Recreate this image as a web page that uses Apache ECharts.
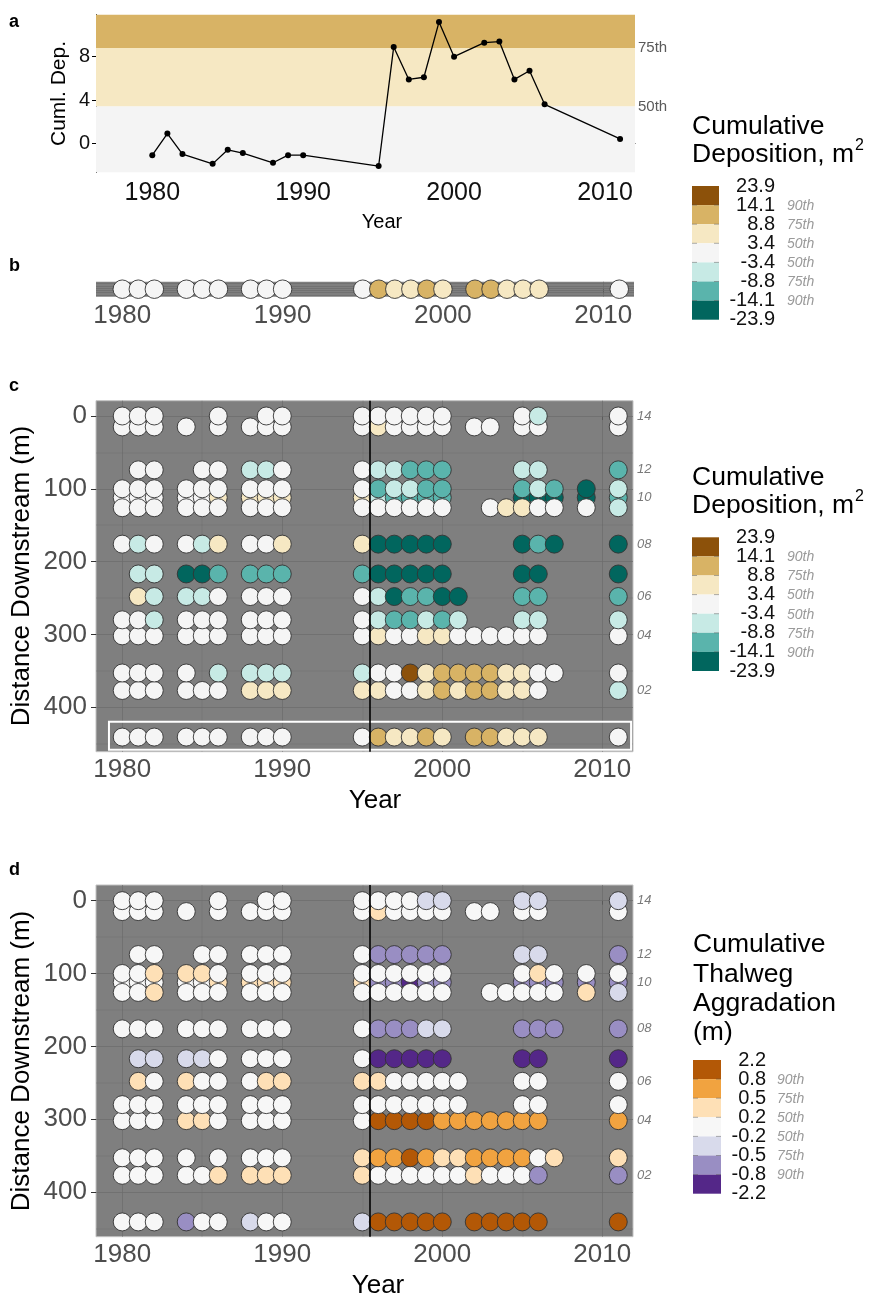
<!DOCTYPE html>
<html>
<head>
<meta charset="utf-8">
<script src="https://cdn.jsdelivr.net/npm/echarts@6.0.0/dist/echarts.min.js"></script>
<style>
  html, body { margin: 0; padding: 0; background: #ffffff; }
  #chart { width: 877px; height: 1299px; }
</style>
</head>
<body>
<div id="chart"></div>
<script>
// ---------------- data ----------------
const yearTicks = [1980, 1990, 2000, 2010];
const yearMinorTicks = [1985, 1995, 2005];
const distanceTicks = [0, 100, 200, 300, 400];
const distanceMinorTicks = [50, 150, 250, 350, 450];
const cumDepTicks = [0, 4, 8];

// transect 01: cumulative deposition (m2) per survey year
const cumDepYears = [1980, 1981, 1982, 1984, 1985, 1986, 1988, 1989, 1990, 1995, 1996, 1997, 1998, 1999, 2000, 2002, 2003, 2004, 2005, 2006, 2011];
const cumDep = [-1.1, 0.9, -1.0, -1.9, -0.6, -0.9, -1.8, -1.1, -1.1, -2.1, 8.9, 5.9, 6.1, 11.2, 8.0, 9.3, 9.4, 5.9, 6.7, 3.6, 0.4];

// class breaks, percentile names and palettes
const depBreaks = [23.9, 14.1, 8.8, 3.4, -3.4, -8.8, -14.1, -23.9];
const aggBreaks = [2.2, 0.8, 0.5, 0.2, -0.2, -0.5, -0.8, -2.2];
const breakPercentiles = ['', '90th', '75th', '50th', '50th', '75th', '90th', ''];
const depColors = ['#8c510a', '#d8b365', '#f6e8c3', '#f5f5f5', '#c7eae5', '#5ab4ac', '#01665e'];
const aggColors = ['#b35806', '#f1a340', '#fee0b6', '#f7f7f7', '#d8daeb', '#998ec3', '#542788'];

// transects, upstream to downstream
const transectIds = ['14', '13', '12', '11', '10', '09', '08', '07', '06', '05', '04', '03', '02', '01'];
const transectDist = [0, 15, 74, 100, 112, 126, 176, 217, 248, 280, 302, 353, 377, 441];
const labelledTransects = ['14', '12', '10', '08', '06', '04', '02'];
const highlightedTransect = '01';
const eventYear = 1995.45;

// cumulative deposition (m2), [year, value] per transect
const dep14 = [[1980,0.6],[1981,-0.4],[1982,1.2],[1986,-1.1],[1989,0.3],[1990,-0.7],[1995,1.5],[1996,2.1],[1997,0.9],[1998,-0.5],[1999,1.8],[2000,-1.6],[2005,0.2],[2006,-4.4],[2011,-0.9]];
const dep13 = [[1980,-0.3],[1981,0.8],[1982,-1.4],[1984,0.5],[1986,1.0],[1988,-0.6],[1989,0.7],[1990,-1.9],[1995,2.4],[1996,4.3],[1997,1.3],[1998,-0.2],[1999,0.6],[2000,1.7],[2002,-1.0],[2003,-0.4],[2005,0.9],[2006,-1.3],[2011,0.1]];
const dep12 = [[1981,-1.8],[1982,0.4],[1985,-0.9],[1986,1.1],[1988,-4.9],[1989,-5.6],[1990,-2.3],[1995,-1.2],[1996,-6.2],[1997,-7.4],[1998,-10.3],[1999,-11.5],[2000,-12.6],[2005,-5.1],[2006,-6.8],[2011,-9.9]];
const dep11 = [[1980,0.2],[1981,-0.6],[1982,1.4],[1984,-1.0],[1985,0.7],[1986,-0.3],[1988,1.9],[1989,-1.5],[1990,0.5],[1995,-2.6],[1996,-9.8],[1997,-6.9],[1998,-7.7],[1999,-11.2],[2000,-12.4],[2005,-10.6],[2006,-5.8],[2007,-9.4],[2009,-17.2],[2011,-6.3]];
const dep10 = [[1980,1.1],[1981,0.3],[1982,-0.8],[1984,0.9],[1985,-1.7],[1986,4.2],[1988,4.8],[1989,5.3],[1990,4.6],[1995,3.9],[1996,-5.2],[1997,-9.3],[1998,-10.1],[1999,-12.8],[2000,-13.5],[2005,-16.4],[2006,-18.1],[2007,-15.7],[2009,-20.6],[2011,-11.0]];
const dep09 = [[1980,-0.5],[1981,1.6],[1982,0.1],[1984,-1.2],[1985,0.6],[1986,2.0],[1988,-0.4],[1989,1.3],[1990,-2.1],[1995,0.8],[1996,2.7],[1997,-1.1],[1998,0.4],[1999,-0.7],[2000,1.9],[2003,-2.4],[2004,5.1],[2005,4.4],[2006,1.2],[2007,-0.3],[2009,0.9],[2011,-4.6]];
const dep08 = [[1980,0.9],[1981,-4.1],[1982,-1.3],[1984,0.5],[1985,-5.3],[1986,4.7],[1988,-0.2],[1989,2.2],[1990,6.1],[1995,5.4],[1996,-16.2],[1997,-18.7],[1998,-19.9],[1999,-17.3],[2000,-21.4],[2005,-15.5],[2006,-12.2],[2007,-16.8],[2011,-18.4]];
const dep07 = [[1981,-4.7],[1982,-6.0],[1984,-15.1],[1985,-16.9],[1986,-10.4],[1988,-11.7],[1989,-9.2],[1990,-12.9],[1995,-13.6],[1996,-19.0],[1997,-21.2],[1998,-22.6],[1999,-18.3],[2000,-20.5],[2005,-17.6],[2006,-19.8],[2011,-16.1]];
const dep06 = [[1981,5.0],[1982,-3.9],[1984,-6.4],[1985,-5.7],[1986,-1.6],[1988,0.7],[1989,-0.9],[1990,1.4],[1995,-2.8],[1996,-7.1],[1997,-15.9],[1998,-11.9],[1999,-13.1],[2000,-17.0],[2001,-14.8],[2005,-10.7],[2006,-9.5],[2011,-12.3]];
const dep05 = [[1980,-1.4],[1981,0.6],[1982,-4.3],[1984,1.8],[1985,-0.1],[1986,-2.5],[1988,0.8],[1989,-1.7],[1990,0.2],[1995,-2.0],[1996,-6.6],[1997,-9.0],[1998,-10.5],[1999,-7.9],[2000,-11.4],[2001,-5.5],[2005,-4.8],[2006,-6.1],[2011,-5.0]];
const dep04 = [[1980,0.5],[1981,-0.9],[1982,1.7],[1984,-1.3],[1985,0.4],[1986,2.3],[1988,-0.6],[1989,1.0],[1990,-1.8],[1995,0.3],[1996,4.9],[1997,1.5],[1998,-0.8],[1999,5.7],[2000,6.4],[2001,2.6],[2002,-1.4],[2003,0.7],[2004,1.9],[2005,-0.5],[2006,2.8],[2011,1.1]];
const dep03 = [[1980,-0.7],[1981,1.2],[1982,0.3],[1984,-2.2],[1986,-4.6],[1988,-5.9],[1989,-6.5],[1990,-4.2],[1995,-5.3],[1996,2.5],[1997,3.1],[1998,16.6],[1999,7.8],[2000,10.9],[2001,12.3],[2002,13.0],[2003,11.7],[2004,8.1],[2005,7.0],[2006,2.9],[2007,1.6],[2011,-0.4]];
const dep02 = [[1980,0.1],[1981,-1.0],[1982,1.5],[1984,-0.6],[1985,2.0],[1986,0.9],[1988,4.5],[1989,5.9],[1990,6.6],[1995,7.2],[1996,5.6],[1997,2.4],[1998,3.0],[1999,8.3],[2000,12.0],[2001,7.5],[2002,13.4],[2003,12.7],[2004,6.8],[2005,5.2],[2006,1.8],[2011,-4.9]];

// cumulative thalweg aggradation (m), [year, value] per transect
const agg14 = [[1980,0.04],[1981,-0.07],[1982,0.12],[1986,-0.03],[1989,0.09],[1990,-0.11],[1995,0.06],[1996,0.14],[1997,-0.05],[1998,0.02],[1999,-0.31],[2000,-0.38],[2005,-0.27],[2006,-0.35],[2011,-0.29]];
const agg13 = [[1980,-0.02],[1981,0.08],[1982,-0.13],[1984,0.05],[1986,0.11],[1988,-0.09],[1989,0.03],[1990,0.16],[1995,-0.06],[1996,0.33],[1997,0.07],[1998,-0.12],[1999,0.01],[2000,0.1],[2002,-0.04],[2003,0.13],[2005,-0.15],[2006,0.06],[2011,-0.08]];
const agg12 = [[1981,0.05],[1982,-0.1],[1985,0.13],[1986,-0.04],[1988,0.09],[1989,0.02],[1990,-0.14],[1995,0.07],[1996,-0.58],[1997,-0.66],[1998,-0.71],[1999,-0.62],[2000,-0.69],[2005,-0.34],[2006,-0.28],[2011,-0.6]];
const agg11 = [[1980,0.1],[1981,-0.06],[1982,0.36],[1984,0.42],[1985,0.31],[1986,0.03],[1988,-0.12],[1989,0.08],[1990,-0.02],[1995,0.15],[1996,-0.09],[1997,0.04],[1998,-0.16],[1999,0.12],[2000,-0.05],[2005,0.02],[2006,0.29],[2007,-0.11],[2009,0.07],[2011,-0.13]];
const agg10 = [[1980,-0.08],[1981,0.14],[1982,0.05],[1984,-0.03],[1985,0.09],[1986,0.26],[1988,0.3],[1989,0.24],[1990,0.37],[1995,0.28],[1996,-0.61],[1997,-0.57],[1998,-0.94],[1999,-0.68],[2000,-0.73],[2005,-0.54],[2006,-0.65],[2007,-0.59],[2009,-0.63],[2011,-0.7]];
const agg09 = [[1980,0.06],[1981,-0.11],[1982,0.39],[1984,0.01],[1985,-0.14],[1986,0.08],[1988,0.12],[1989,-0.07],[1990,0.04],[1995,-0.1],[1996,0.11],[1997,-0.02],[1998,0.06],[1999,-0.13],[2000,0.09],[2003,0.03],[2004,-0.06],[2005,0.15],[2006,-0.01],[2007,0.1],[2009,0.35],[2011,-0.3]];
const agg08 = [[1980,-0.05],[1981,0.07],[1982,-0.12],[1984,0.13],[1985,0.02],[1986,-0.09],[1988,0.05],[1989,0.1],[1990,-0.04],[1995,0.12],[1996,-0.64],[1997,-0.7],[1998,-0.56],[1999,-0.4],[2000,-0.33],[2005,-0.67],[2006,-0.6],[2007,-0.74],[2011,-0.58]];
const agg07 = [[1981,-0.29],[1982,-0.36],[1984,-0.32],[1985,-0.44],[1986,0.06],[1988,-0.13],[1989,0.11],[1990,-0.02],[1995,0.09],[1996,-1.12],[1997,-1.3],[1998,-0.98],[1999,-1.24],[2000,-1.45],[2005,-1.05],[2006,-1.18],[2011,-0.92]];
const agg06 = [[1981,0.34],[1982,0.04],[1984,0.27],[1985,-0.1],[1986,0.13],[1988,-0.06],[1989,0.41],[1990,0.45],[1995,0.32],[1996,0.38],[1997,0.08],[1998,-0.15],[1999,0.02],[2000,0.14],[2001,-0.07],[2005,0.1],[2006,-0.03],[2011,0.05]];
const agg05 = [[1980,0.02],[1981,-0.09],[1982,0.11],[1984,-0.14],[1985,0.07],[1986,-0.01],[1988,0.16],[1989,-0.05],[1990,0.09],[1995,-0.12],[1996,0.04],[1997,0.13],[1998,-0.08],[1999,0.1],[2000,-0.03],[2001,0.06],[2005,-0.11],[2006,0.12],[2011,0.03]];
const agg04 = [[1980,-0.1],[1981,0.05],[1982,0.13],[1984,0.33],[1985,0.29],[1986,-0.04],[1988,0.08],[1989,-0.13],[1990,0.11],[1995,0.02],[1996,1.25],[1997,1.41],[1998,1.08],[1999,0.97],[2000,0.74],[2001,0.66],[2002,0.71],[2003,0.59],[2004,0.63],[2005,0.77],[2006,0.68],[2011,0.61]];
const agg03 = [[1980,0.07],[1981,-0.04],[1982,0.1],[1984,-0.12],[1986,0.05],[1988,0.14],[1989,-0.08],[1990,0.03],[1995,0.26],[1996,0.62],[1997,0.7],[1998,1.15],[1999,0.57],[2000,0.39],[2001,0.44],[2002,0.73],[2003,0.66],[2004,0.6],[2005,0.78],[2006,0.12],[2007,0.35],[2011,0.31]];
const agg02 = [[1980,-0.06],[1981,0.12],[1982,0.01],[1984,0.09],[1985,-0.15],[1986,0.28],[1988,0.4],[1989,0.35],[1990,0.47],[1995,0.3],[1996,0.08],[1997,-0.03],[1998,0.15],[1999,-0.1],[2000,0.04],[2001,0.13],[2002,0.36],[2003,-0.07],[2004,0.11],[2005,0.06],[2006,-0.62],[2011,-0.55]];
const agg01 = [[1980,0.03],[1981,-0.12],[1982,0.08],[1984,-0.66],[1985,0.1],[1986,-0.05],[1988,-0.37],[1989,0.14],[1990,-0.02],[1995,-0.42],[1996,1.6],[1997,1.33],[1998,1.52],[1999,1.21],[2000,1.74],[2002,1.38],[2003,1.9],[2004,1.47],[2005,1.29],[2006,1.56],[2011,1.68]];

// ---------------- assembly ----------------
const FONT = '"Liberation Sans", Arial, sans-serif';
const dep01 = cumDepYears.map((yr, i) => [yr, cumDep[i]]);
const depRows = [dep14, dep13, dep12, dep11, dep10, dep09, dep08, dep07, dep06, dep05, dep04, dep03, dep02, dep01];
const aggRows = [agg14, agg13, agg12, agg11, agg10, agg09, agg08, agg07, agg06, agg05, agg04, agg03, agg02, agg01];

// paint downstream rows first so upstream circles sit on top; transect 10 under its neighbours
const drawOrder = [13, 12, 11, 10, 9, 8, 7, 6, 4, 5, 3, 2, 1, 0];

function rowsToPoints(rows) {
  const pts = [];
  drawOrder.forEach(r => rows[r].forEach(([yr, v]) => pts.push([yr, transectDist[r], v])));
  return pts;
}
function piecesFrom(breaks, colors) {
  return colors.map((c, i) => i === colors.length - 1
    ? { gte: breaks[i + 1], lte: breaks[i], color: c }
    : { gt: breaks[i + 1], lte: breaks[i], color: c });
}

const depPoints = rowsToPoints(depRows);
const aggPoints = rowsToPoints(aggRows);
const stripPoints = cumDepYears.map((yr, i) => [yr, 0, cumDep[i]]);
const lineData = cumDepYears.map((yr, i) => [yr, cumDep[i]]);

const aY = { min: -2.68, max: 11.88 };
const yearRangeA = { min: 1976.27, max: 2011.99 };
const yearRange = { min: 1978.36, max: 2011.92 };
const distRangeC = { min: -21.0, max: 461.1 };
const distRangeD = { min: -21.5, max: 461.3 };

const GRID_LINE = '#6c6c6c';

// panel grid lines, kept underneath the circles
function gridLineSeries(xi, yi, xs, xsMinor, ys, ysMinor) {
  const d = [];
  xs.forEach(v => d.push({ xAxis: v, lineStyle: { width: 0.7 } }));
  xsMinor.forEach(v => d.push({ xAxis: v, lineStyle: { width: 0.35 } }));
  ys.forEach(v => d.push({ yAxis: v, lineStyle: { width: 0.7 } }));
  ysMinor.forEach(v => d.push({ yAxis: v, lineStyle: { width: 0.35 } }));
  return {
    type: 'line', xAxisIndex: xi, yAxisIndex: yi, data: [], z: 1, silent: true,
    markLine: { z: 1, silent: true, symbol: ['none', 'none'], label: { show: false },
      lineStyle: { color: GRID_LINE, type: 'solid' }, data: d, animation: false }
  };
}
// vertical marker drawn above the circles
function eventLineSeries(xi, yi) {
  return {
    type: 'line', xAxisIndex: xi, yAxisIndex: yi, data: [], z: 6, silent: true,
    markLine: { z: 6, silent: true, symbol: ['none', 'none'], label: { show: false },
      lineStyle: { color: '#000', width: 1.6, type: 'solid' }, data: [{ xAxis: eventYear }], animation: false }
  };
}

const xLabelFmt = v => String(v);
function yearAxis(gridIndex, range, color, fontSize, margin, showLine) {
  return {
    type: 'value', gridIndex, min: range.min, max: range.max,
    axisLine: { show: showLine, lineStyle: { color: '#000', width: 1 } },
    axisTick: { show: true, customValues: yearTicks, length: 4, lineStyle: { color: showLine ? '#000' : '#333' } },
    axisLabel: { customValues: yearTicks, formatter: xLabelFmt, color, fontSize, fontFamily: FONT, margin },
    splitLine: { show: false }
  };
}
function distAxis(gridIndex, range) {
  return {
    type: 'value', gridIndex, inverse: true, min: range.min, max: range.max,
    axisLine: { show: false },
    axisTick: { show: true, customValues: distanceTicks, length: 5, lineStyle: { color: '#333' } },
    axisLabel: { customValues: distanceTicks, formatter: v => String(v), color: '#4d4d4d', fontSize: 26, fontFamily: FONT, margin: 9 },
    splitLine: { show: false }
  };
}
const labelledDist = labelledTransects.map(id => transectDist[transectIds.indexOf(id)]);
function transectAxis(gridIndex, range) {
  return {
    type: 'value', gridIndex, position: 'right', inverse: true, min: range.min, max: range.max,
    axisLine: { show: false }, axisTick: { show: false }, splitLine: { show: false },
    axisLabel: { customValues: labelledDist, formatter: v => transectIds[transectDist.indexOf(v)],
      color: '#7a7a7a', fontSize: 13, fontStyle: 'italic', fontFamily: FONT, margin: 4 }
  };
}

const hiDist = transectDist[transectIds.indexOf(highlightedTransect)];
const hiYears = depRows[transectIds.indexOf(highlightedTransect)].map(p => p[0]);

const circleStyle = { borderColor: '#333333', borderWidth: 0.9, opacity: 1 };

const option = {
  animation: false,
  grid: [
    { left: 96, top: 14.7, width: 539, height: 157.6, containLabel: false, outerBoundsMode: 'none' },
    { left: 96, top: 281.7, width: 538, height: 15, show: true, backgroundColor: '#7f7f7f', borderWidth: 0, containLabel: false, outerBoundsMode: 'none' },
    { left: 96, top: 400.7, width: 537, height: 351, show: true, backgroundColor: '#7f7f7f', borderColor: '#c2c2c2', borderWidth: 1, containLabel: false, outerBoundsMode: 'none' },
    { left: 96, top: 885, width: 537, height: 351.7, show: true, backgroundColor: '#7f7f7f', borderColor: '#c2c2c2', borderWidth: 1, containLabel: false, outerBoundsMode: 'none' }
  ],
  xAxis: [
    yearAxis(0, yearRangeA, '#111', 25, 8, true),
    yearAxis(1, yearRange, '#4d4d4d', 26, 6, false),
    yearAxis(2, yearRange, '#4d4d4d', 26, 5, false),
    yearAxis(3, yearRange, '#4d4d4d', 26, 5, false)
  ],
  yAxis: [
    { type: 'value', gridIndex: 0, min: aY.min, max: aY.max,
      axisLine: { show: true, lineStyle: { color: '#000', width: 1 } },
      axisTick: { show: true, customValues: cumDepTicks, length: 4, lineStyle: { color: '#000' } },
      axisLabel: { customValues: cumDepTicks, formatter: v => String(v), color: '#111', fontSize: 20, fontFamily: FONT, margin: 6 },
      splitLine: { show: false } },
    { type: 'value', gridIndex: 1, min: -1, max: 1, show: false },
    distAxis(2, distRangeC),
    transectAxis(2, distRangeC),
    distAxis(3, distRangeD),
    transectAxis(3, distRangeD)
  ],
  visualMap: [
    { type: 'piecewise', show: false, seriesIndex: [3, 6], dimension: 2, pieces: piecesFrom(depBreaks, depColors) },
    { type: 'piecewise', show: false, seriesIndex: [9], dimension: 2, pieces: piecesFrom(aggBreaks, aggColors) }
  ],
  series: [
    // 0: panel a percentile bands + labels
    { type: 'line', xAxisIndex: 0, yAxisIndex: 0, data: [], z: 1, silent: true, clip: false,
      markArea: { z: 1, silent: true, data: [
        [{ yAxis: depBreaks[2], itemStyle: { color: depColors[1] } }, { yAxis: aY.max }],
        [{ yAxis: depBreaks[3], itemStyle: { color: depColors[2] } }, { yAxis: depBreaks[2] }],
        [{ yAxis: aY.min, itemStyle: { color: '#f4f4f4' } }, { yAxis: depBreaks[3] }]
      ] },
      markLine: { silent: true, symbol: ['none', 'none'], lineStyle: { color: 'rgba(0,0,0,0)', width: 0 },
        label: { show: true, position: 'end', distance: 3, color: '#5a5a5a', fontSize: 15, fontFamily: FONT, opacity: 1 },
        data: [
          { yAxis: depBreaks[2], label: { formatter: breakPercentiles[2] } },
          { yAxis: depBreaks[3], label: { formatter: breakPercentiles[3] } }
        ] } },
    // 1: panel a line
    { type: 'line', xAxisIndex: 0, yAxisIndex: 0, data: lineData, z: 3,
      symbol: 'circle', symbolSize: 6, showSymbol: true,
      itemStyle: { color: '#000' }, lineStyle: { color: '#000', width: 1.3 } },
    // 2: panel b grid
    gridLineSeries(1, 1, yearTicks, yearMinorTicks, [-0.75, -0.45, -0.15, 0.15, 0.45, 0.75], []),
    // 3: panel b circles
    { type: 'scatter', xAxisIndex: 1, yAxisIndex: 1, data: stripPoints, z: 3,
      symbolSize: 18.5, itemStyle: circleStyle, emphasis: { disabled: true } },
    // 4: panel c grid
    gridLineSeries(2, 2, yearTicks, yearMinorTicks, distanceTicks, distanceMinorTicks),
    // 5: panel c highlight box around transect 01
    { type: 'line', xAxisIndex: 2, yAxisIndex: 2, data: [], z: 4, silent: true,
      markArea: { z: 4, silent: true, itemStyle: { color: 'rgba(0,0,0,0)', borderColor: '#ffffff', borderWidth: 2 },
        data: [[{ xAxis: hiYears[0] - 0.83, yAxis: hiDist - 21 }, { xAxis: hiYears[hiYears.length - 1] + 0.8, yAxis: hiDist + 17.5 }]] } },
    // 6: panel c circles
    { type: 'scatter', xAxisIndex: 2, yAxisIndex: 2, data: depPoints, z: 3,
      symbolSize: 18, itemStyle: circleStyle, emphasis: { disabled: true } },
    // 7: panel c event line
    eventLineSeries(2, 2),
    // 8: panel d grid
    gridLineSeries(3, 4, yearTicks, yearMinorTicks, distanceTicks, distanceMinorTicks),
    // 9: panel d circles
    { type: 'scatter', xAxisIndex: 3, yAxisIndex: 4, data: aggPoints, z: 3,
      symbolSize: 18, itemStyle: circleStyle, emphasis: { disabled: true } },
    // 10: panel d event line
    eventLineSeries(3, 4)
  ],
  graphic: []
};

// ---------------- text and legends ----------------
const measure = (() => {
  const ctx = document.createElement('canvas').getContext('2d');
  return (txt, font) => { ctx.font = font; return ctx.measureText(txt).width; };
})();

function text(x, y, str, font, fill, align, rotation) {
  const el = { type: 'text', x, y, silent: true,
    style: { text: str, font, fill, align: align || 'left', verticalAlign: 'middle', textAlign: align || 'left', textVerticalAlign: 'middle' } };
  if (rotation) el.rotation = rotation;
  return el;
}

const G = option.graphic;
// panel letters
[['a', 22], ['b', 266], ['c', 386], ['d', 870]].forEach(([t, y]) => G.push(text(9, y, t, 'bold 18px ' + FONT, '#000', 'left')));
// axis titles
G.push(text(59, 93.5, 'Cuml. Dep.', '21px ' + FONT, '#000', 'center', Math.PI / 2));
G.push(text(382, 222, 'Year', '20px ' + FONT, '#000', 'center'));
G.push(text(22, 576, 'Distance Downstream (m)', '26px ' + FONT, '#000', 'center', Math.PI / 2));
G.push(text(375, 801, 'Year', '26px ' + FONT, '#000', 'center'));
G.push(text(22, 1061, 'Distance Downstream (m)', '26px ' + FONT, '#000', 'center', Math.PI / 2));
G.push(text(378, 1286, 'Year', '26px ' + FONT, '#000', 'center'));

function legend(x, titleLines, titleTop, lineGap, superLine, boxTop, boxW, breaks, colors, labelRight, pctLeft) {
  const titleFont = '26.5px ' + FONT;
  titleLines.forEach((t, i) => {
    const y = titleTop + i * lineGap;
    G.push(text(x, y, t, titleFont, '#000', 'left'));
    if (i === superLine) {
      G.push(text(x + measure(t, titleFont) + 1, y - 9, '2', '16px ' + FONT, '#000', 'left'));
    }
  });
  const step = 19.1;
  colors.forEach((c, i) => G.push({ type: 'rect', silent: true, shape: { x, y: boxTop + i * step, width: boxW, height: step }, style: { fill: c } }));
  for (let i = 1; i < colors.length; i++) {
    const y = boxTop + i * step;
    G.push({ type: 'line', silent: true, shape: { x1: x, y1: y, x2: x + 5, y2: y }, style: { stroke: 'rgba(80,80,80,0.45)', lineWidth: 1 } });
    G.push({ type: 'line', silent: true, shape: { x1: x + boxW - 5, y1: y, x2: x + boxW, y2: y }, style: { stroke: 'rgba(80,80,80,0.45)', lineWidth: 1 } });
  }
  breaks.forEach((b, i) => {
    const y = boxTop + i * step;
    G.push(text(labelRight, y, b.toFixed(1), '20px ' + FONT, '#111', 'right'));
    if (breakPercentiles[i]) G.push(text(pctLeft, y + 1, breakPercentiles[i], 'italic 14px ' + FONT, '#9a9a9a', 'left'));
  });
}
legend(692, ['Cumulative', 'Deposition, m'], 127, 27.5, 1, 186, 27, depBreaks, depColors, 775, 787);
legend(692, ['Cumulative', 'Deposition, m'], 478, 27.5, 1, 537.3, 27, depBreaks, depColors, 775, 787);
legend(693, ['Cumulative', 'Thalweg', 'Aggradation', '(m)'], 945, 29.3, -1, 1060, 28, aggBreaks, aggColors, 766, 777);

const chart = echarts.init(document.getElementById('chart'), null, { renderer: 'canvas', width: 877, height: 1299 });
chart.setOption(option);
</script>
</body>
</html>
